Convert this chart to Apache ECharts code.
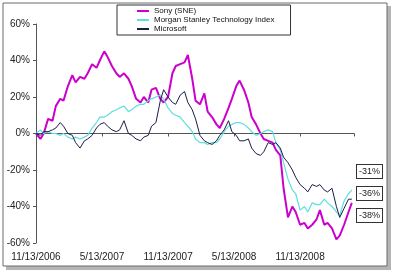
<!DOCTYPE html>
<html>
<head>
<meta charset="utf-8">
<script src="https://cdn.jsdelivr.net/npm/echarts@6/dist/echarts.min.js"></script>
<style>
  html, body { margin: 0; padding: 0; background: #fff; }
  #chart { width: 394px; height: 273px; }
</style>
</head>
<body>
<div id="chart"></div>
<script>
// months since 11/13/2006
var months = [0, 0.4, 0.7, 1.1, 1.5, 1.8, 2.2, 2.5, 2.9, 3.3, 3.6, 4, 4.4, 4.7, 5.1, 5.5, 5.8, 6.2, 6.5, 6.9,
  7.3, 7.6, 8, 8.4, 8.7, 9.1, 9.5, 9.8, 10.2, 10.5, 10.9, 11.3, 11.6, 12, 12.4, 12.7, 13.1, 13.5, 13.8, 14.2,
  14.5, 14.9, 15.3, 15.6, 16, 16.4, 16.7, 17.1, 17.5, 17.8, 18.2, 18.5, 18.9, 19.3, 19.6, 20, 20.4, 20.7, 21.1, 21.5,
  21.8, 22.2, 22.5, 22.9, 23.3, 23.6, 24, 24.4, 24.7, 25.1, 25.5, 25.8, 26.2, 26.5, 26.9, 27.3, 27.6, 28, 28.4, 28.7]

var sony = [0, -3, 0, 8, 7, 15, 19, 18, 26, 32, 28, 31, 30, 33, 38, 36, 40, 45, 42, 37,
  33, 31, 33, 30, 26, 19, 17, 20, 17, 24, 25, 19, 17, 20, 33, 37, 38, 39, 43, 30,
  18, 16, 22, 12, 9, 5, 3, 8, 14, 19, 26, 29, 24, 17, 9, 5, 0, -3, -4, -5,
  -9, -12, -30, -46, -40, -43, -50, -49, -52, -50, -47, -42, -50, -49, -52, -58, -56, -50, -43, -38]

var morgan = [0, 2, 0, 1, 0, 0, -1, 0, -2, -3, -2, -3, -2, -1, 3, 6, 9, 9, 10, 12,
  13, 14, 15, 12, 13, 15, 16, 16, 18, 19, 20, 21, 19, 14, 11, 10, 9, 6, 4, 1,
  -3, -5, -5, -6, -5, -5, -3, 1, 4, 5, 6, 6, 5, 3, 1, -1, 0, 1, 2, 1,
  -5, -9, -16, -25, -31, -33, -42, -40, -43, -38, -39, -39, -36, -38, -40, -43, -45, -37, -33, -31]

var microsoft = [0, -1, 1, 1, 2, 3, 6, 4, 0, -1, -5, -8, -4, -3, -1, 3, 5, 6, 4, 2,
  1, 2, 7, 0, -1, -3, -4, -2, -1, 4, 6, 18, 24, 20, 17, 16, 21, 23, 17, 13,
  8, -1, -4, -5, -6, -4, -1, 2, 7, 1, -1, -4, -4, -3, -8, -11, -12, -10, -5, -6,
  -5, -8, -13, -16, -20, -24, -28, -30, -32, -28, -29, -28, -31, -32, -30, -40, -46, -41, -36, -36]

var seriesNames = ['Sony (SNE)', 'Morgan Stanley Technology Index', 'Microsoft']
var seriesColors = ['#cc00cc', '#5fdede', '#1c1c4a']
var seriesWidths = [2, 1.2, 1]
var tickLabels = ['11/13/2006', '5/13/2007', '11/13/2007', '5/13/2008', '11/13/2008']
var endLabels = ['-31%', '-36%', '-38%']

var chart = echarts.init(document.getElementById('chart'))

function pairs(values) {
  return values.map(function(v, i) { return [months[i], v] })
}

var dataSets = [sony, morgan, microsoft]
var series = []
for (var k = 0; k < dataSets.length; k++) {
  series.push({
    name: seriesNames[k],
    type: 'line',
    symbol: 'none',
    animation: false,
    lineStyle: { color: seriesColors[k], width: seriesWidths[k] },
    itemStyle: { color: seriesColors[k] },
    data: pairs(dataSets[k])
  })
}

var labelTops = [164, 186, 208]
var graphics = [
  { type: 'rect', z: -10, shape: { x: 6, y: 6, width: 385, height: 264 }, style: { fill: '#b5b5b5' } },
  { type: 'rect', z: -9, shape: { x: 3, y: 3, width: 384, height: 263 }, style: { fill: '#fff', stroke: '#6a6a6a', lineWidth: 1 } }
]
endLabels.forEach(function(t, i) {
  graphics.push({
    type: 'text',
    left: 356,
    top: labelTops[i],
    style: {
      text: t,
      fontSize: 9,
      fontFamily: 'Liberation Sans, Arial',
      fill: '#222',
      backgroundColor: '#fff',
      borderColor: '#333',
      borderWidth: 1,
      padding: [2, 2, 2, 2]
    }
  })
})

var option = {
  backgroundColor: '#fff',
  textStyle: { fontFamily: 'Liberation Sans, Arial' },
  grid: { left: 36, right: 40, top: 24, bottom: 30, containLabel: false },
  legend: {
    data: seriesNames,
    orient: 'vertical',
    left: 117,
    top: 5,
    itemWidth: 12,
    itemHeight: 7,
    itemGap: 1,
    padding: [2, 16, 2, 19],
    borderColor: '#333',
    borderWidth: 1,
    backgroundColor: '#fff',
    itemStyle: { opacity: 0 },
    textStyle: { fontSize: 8, lineHeight: 8, color: '#111' }
  },
  xAxis: [
    {
      type: 'value',
      min: 0,
      max: 28.9,
      interval: 6,
      axisLine: { show: true, onZero: true, lineStyle: { color: '#555', width: 1 } },
      axisTick: { show: true, length: 3, lineStyle: { color: '#555' } },
      axisLabel: { show: false },
      splitLine: { show: false }
    },
    {
      type: 'value',
      position: 'bottom',
      min: 0,
      max: 28.9,
      interval: 6,
      axisLine: { show: false, onZero: false },
      axisTick: { show: false },
      axisLabel: {
        fontSize: 10,
        color: '#222',
        margin: 9,
        formatter: function(v) { return tickLabels[Math.round(v / 6)] || '' }
      },
      splitLine: { show: false }
    }
  ],
  yAxis: {
    type: 'value',
    min: -60,
    max: 60,
    interval: 20,
    axisLine: { show: true, lineStyle: { color: '#555', width: 1 } },
    axisTick: { show: true, length: 3, lineStyle: { color: '#555' } },
    axisLabel: { fontSize: 10, color: '#222', margin: 6, formatter: '{value}%' },
    splitLine: { show: false }
  },
  graphic: graphics,
  series: series
}
chart.setOption(option)
</script>
</body>
</html>
